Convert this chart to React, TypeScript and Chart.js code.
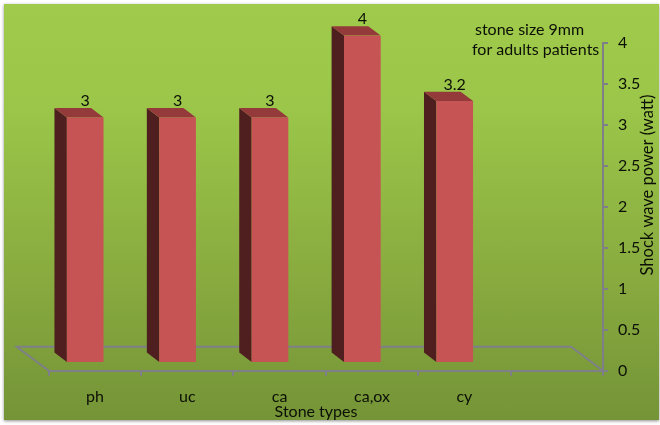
import { useEffect, useRef } from "react";
import { Chart, registerables } from "chart.js";

Chart.register(...registerables);

const stoneTypes = ["ph", "uc", "ca", "ca,ox", "cy", ""];
const shockWavePower = [3, 3, 3, 4, 3.2, null];
const noteLines = ["stone size 9mm", "for adults patients"];
const yTitle = "Shock wave power (watt)";
const xTitle = "Stone types";

const FONT = "Lato";
const FONT_SIZE = 16;
const TEXT = "#0c0f06";
const AXIS = "#7f7f8a";

// the picture is a fake 3d column chart, so everything below is offsets from the real scales
const FRONT_DX = -9.7;
const FRONT_DY = -7.7;
const DEPTH_X = -12.4;
const DEPTH_Y = -9.4;
const FLOOR_DX = -32;
const FLOOR_DY = -24;

const fakeDepth = {
  id: "fakeDepth",
  beforeDatasetsDraw(chart: any) {
    const { ctx, chartArea } = chart;
    const { left, right, bottom } = chartArea;

    // floor
    ctx.save();
    ctx.strokeStyle = AXIS;
    ctx.lineWidth = 2;
    ctx.beginPath();
    ctx.moveTo(left, bottom);
    ctx.lineTo(left + FLOOR_DX, bottom + FLOOR_DY);
    ctx.lineTo(right + FLOOR_DX, bottom + FLOOR_DY);
    ctx.lineTo(right, bottom);
    ctx.stroke();
    ctx.restore();

    ctx.save();
    ctx.translate(FRONT_DX, FRONT_DY);
    chart.getDatasetMeta(0).data.forEach((bar: any, i: number) => {
      if (shockWavePower[i] === null) return;
      const { x, y, base, width } = bar.getProps(["x", "y", "base", "width"], true);
      const l = x - width / 2;
      const r = x + width / 2;

      // dark side face
      ctx.fillStyle = "#4f1f20";
      ctx.beginPath();
      ctx.moveTo(l, y);
      ctx.lineTo(l + DEPTH_X, y + DEPTH_Y);
      ctx.lineTo(l + DEPTH_X, base + DEPTH_Y);
      ctx.lineTo(l, base);
      ctx.closePath();
      ctx.fill();

      // top face
      ctx.fillStyle = "#953a3b";
      ctx.beginPath();
      ctx.moveTo(l, y);
      ctx.lineTo(l + DEPTH_X, y + DEPTH_Y);
      ctx.lineTo(r + DEPTH_X, y + DEPTH_Y);
      ctx.lineTo(r, y);
      ctx.closePath();
      ctx.fill();
    });
    // left translated on purpose, the front faces are drawn by the chart right after this
  },
  afterDatasetsDraw(chart: any) {
    const { ctx } = chart;
    ctx.restore();

    const scaleY = chart.scales.y;
    ctx.save();
    ctx.fillStyle = TEXT;
    ctx.font = `${FONT_SIZE}px ${FONT}`;
    ctx.textBaseline = "middle";

    // value labels over the columns
    ctx.textAlign = "center";
    chart.getDatasetMeta(0).data.forEach((bar: any, i: number) => {
      const value = shockWavePower[i];
      if (value === null) return;
      ctx.fillText(String(value), bar.x + FRONT_DX, scaleY.getPixelForValue(value) + FRONT_DY + DEPTH_Y - 7);
    });

    // note in the top right corner
    ctx.textAlign = "left";
    ctx.fillText(noteLines[0], 475, 30);
    ctx.fillText(noteLines[1], 472, 50);

    // axis titles
    ctx.textAlign = "center";
    ctx.fillText(xTitle, 316, 412);
    ctx.font = `16.5px ${FONT}`;
    ctx.translate(648, 185);
    ctx.rotate(-Math.PI / 2);
    ctx.fillText(yTitle, 0, 0);
    ctx.restore();
  },
};

export default function App() {
  const canvasRef = useRef<HTMLCanvasElement>(null);

  useEffect(() => {
    if (!canvasRef.current) return;

    const chart = new Chart(canvasRef.current, {
      type: "bar",
      data: {
        labels: stoneTypes,
        datasets: [
          {
            label: "Shock wave power",
            data: shockWavePower,
            backgroundColor: "#c65454",
            barPercentage: 0.397,
            categoryPercentage: 1,
          },
        ],
      },
      options: {
        responsive: false,
        animation: false,
        events: [],
        layout: {
          autoPadding: false,
          padding: { left: 48.7, top: 43.3 },
        },
        plugins: {
          legend: { display: false },
          title: { display: false },
          tooltip: { enabled: false },
        },
        scales: {
          x: {
            afterFit: (scale: any) => {
              scale.height = 54.3;
            },
            border: { color: AXIS, width: 2 },
            grid: { color: AXIS, lineWidth: 2, drawOnChartArea: false, tickLength: 5 },
            ticks: {
              color: TEXT,
              font: { family: FONT, size: FONT_SIZE },
              padding: 12,
              autoSkip: false,
              maxRotation: 0,
            },
          },
          y: {
            position: "right",
            min: 0,
            max: 4,
            afterFit: (scale: any) => {
              scale.width = 57;
            },
            border: { color: AXIS, width: 2 },
            grid: { color: AXIS, lineWidth: 2, drawOnChartArea: false, tickLength: 5 },
            ticks: {
              stepSize: 0.5,
              color: TEXT,
              font: { family: FONT, size: FONT_SIZE },
              padding: 10,
              callback: (value: any) => String(value),
            },
          },
        },
      },
      plugins: [fakeDepth],
    });

    return () => {
      chart.destroy();
    };
  }, []);

  return (
    <div style={{ position: "fixed", left: 0, top: 0, width: 660, height: 425, background: "#fff" }}>
      <div
        style={{
          position: "absolute",
          left: 4,
          top: 4,
          width: 655,
          height: 416,
          background: "linear-gradient(#9fca4b, #9bc649 25%, #89ab3f 65%, #749437)",
          boxShadow: "0 1px 3px rgba(90,90,90,0.7)",
        }}
      />
      <canvas ref={canvasRef} width={660} height={425} style={{ position: "absolute", left: 0, top: 0 }} />
    </div>
  );
}
